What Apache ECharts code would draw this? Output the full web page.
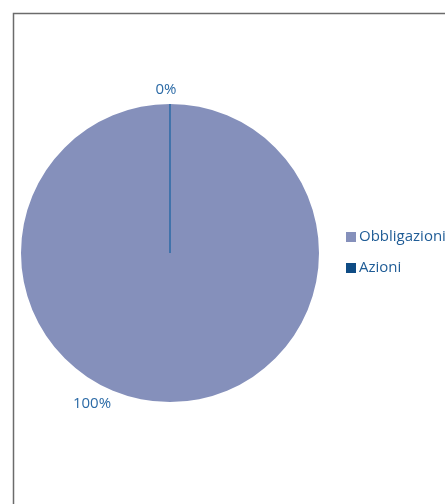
<!DOCTYPE html>
<html>
<head>
<meta charset="utf-8">
<script src="https://cdn.jsdelivr.net/npm/echarts@6/dist/echarts.min.js"></script>
<style>
  html, body { margin: 0; padding: 0; background: #fff; }
  #chart { width: 445px; height: 504px; }
</style>
</head>
<body>
<div id="chart"></div>
<script>
const categories = ['Obbligazioni', 'Azioni'];
const values = [100, 0];
const labels = ['100%', '0%'];
const colors = ['#8590bb', '#0f4c84'];

const chart = echarts.init(document.getElementById('chart'));

const option = {
    animation: false,
    textStyle: { fontFamily: 'Open Sans' },
    graphic: [{
        type: 'rect',
        shape: { x: 13.5, y: 13.5, width: 600, height: 600 },
        style: { fill: 'none', stroke: '#6b6b6b', lineWidth: 1.5 },
        z: -1
    }],
    legend: {
        orient: 'vertical',
        left: 346,
        top: 229,
        padding: 0,
        itemWidth: 10,
        itemHeight: 10,
        itemGap: 15,
        icon: 'rect',
        itemStyle: { borderWidth: 0 },
        textStyle: { color: '#1f5c96', fontSize: 15, lineHeight: 16, padding: [0, 0, 0, -2] },
        data: categories
    },
    series: [{
        type: 'pie',
        center: [170, 253],
        radius: 149,
        startAngle: 90,
        clockwise: true,
        minAngle: 0.01,
        stillShowZeroSum: true,
        label: {
            show: true,
            position: 'outside',
            color: '#2b6aa6',
            fontSize: 15,
            formatter: function (p) { return labels[p.dataIndex]; }
        },
        labelLine: { show: false },
        labelLayout: function (p) {
            // Excel-style label spots: 0% above the top, 100% bottom-left
            return p.dataIndex === 0
                ? { x: 92, y: 404, align: 'center', verticalAlign: 'middle' }
                : { x: 166, y: 90, align: 'center', verticalAlign: 'middle' };
        },
        emphasis: { disabled: true },
        data: categories.map(function (name, i) {
            const item = {
                name: name,
                value: values[i],
                itemStyle: { color: colors[i] }
            };
            if (i === 1) {
                item.itemStyle.borderColor = '#2b6aa6';
                item.itemStyle.borderWidth = 1;
            }
            return item;
        })
    }]
};

chart.setOption(option);

window.addEventListener('resize', function () {
    chart.resize();
});
</script>
</body>
</html>
